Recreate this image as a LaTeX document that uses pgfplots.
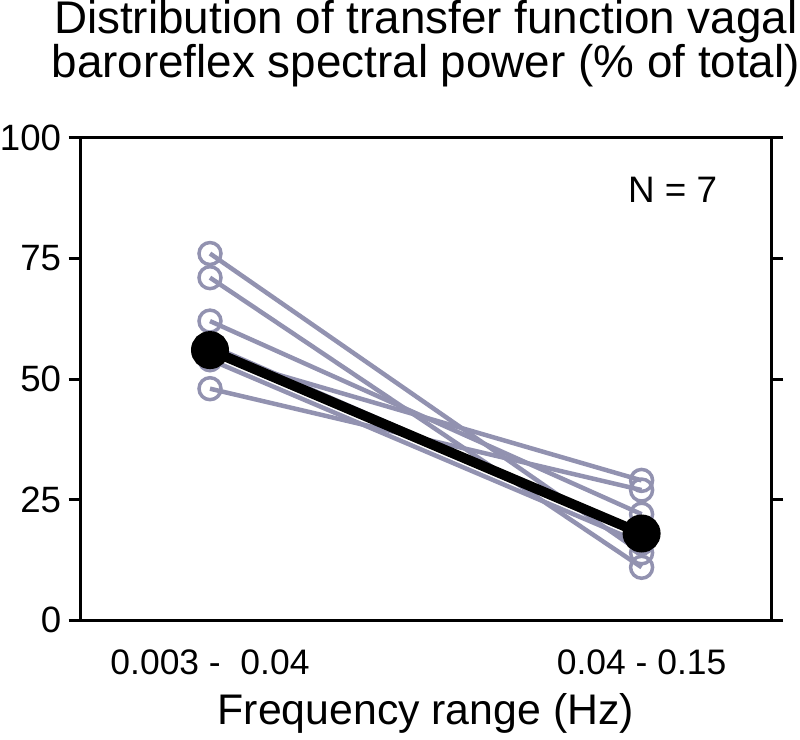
\documentclass[border=0pt]{standalone}
\usepackage{pgfplots}
\pgfplotsset{compat=1.18}
\usepackage{fontspec}
\setmainfont{Liberation Sans}
\definecolor{grayblue}{RGB}{146,146,176}
\begin{document}
\begin{tikzpicture}
\begin{axis}[
  scale only axis,
  width=345.5bp, height=241.5bp,
  xmin=-0.3, xmax=1.3, ymin=0, ymax=100,
  axis line style={line width=1.5bp},
  every tick/.style={line width=1.5bp, black},
  tick align=outside,
  ytick={0,25,50,75,100},
  ytick pos=both,
  yticklabel pos=left,
  major tick length=6bp,
  xtick={0,1},
  xticklabels={0.003 -\ \ 0.04, 0.04 - 0.15},
  x tick style={draw=none},
  xticklabel style={anchor=base, yshift=-21bp, font=\fontsize{17.8}{20}\selectfont},
  yticklabel style={font=\fontsize{18.4}{20}\selectfont, inner sep=0pt, xshift=-3.5bp},
  /pgf/number format/assume math mode=true,
  xlabel={Frequency range (Hz)},
  xlabel style={at={(axis description cs:0.5,0)}, anchor=base, yshift=-52bp, inner sep=3bp, font=\fontsize{21.5}{24}\selectfont},
  title={Distribution of transfer function vagal\\baroreflex spectral power (\% of total)},
  title style={at={(axis description cs:0.5,1)}, anchor=south, yshift=19bp, inner sep=0pt, align=center, font=\fontsize{23}{21}\selectfont},
  clip=false,
]
\pgfplotsset{subj/.style={grayblue, line width=2.25bp, mark=o, mark size=5.5bp, mark options={line width=1.75bp, fill=white, solid}}}
\addplot[subj] coordinates {(0,76) (1,14)};
\addplot[subj] coordinates {(0,71) (1,11)};
\addplot[subj] coordinates {(0,62) (1,22)};
\addplot[subj] coordinates {(0,57) (1,18)};
\addplot[subj] coordinates {(0,55) (1,29)};
\addplot[subj] coordinates {(0,54) (1,16)};
\addplot[subj] coordinates {(0,48) (1,27)};
\addplot[black, line width=5bp, mark=*, mark size=7bp] coordinates {(0,56) (1,18)};
\node[font=\fontsize{18.5}{20}\selectfont] at (axis cs:1.072,89.2) {N = 7};
\end{axis}
\end{tikzpicture}
\end{document}
